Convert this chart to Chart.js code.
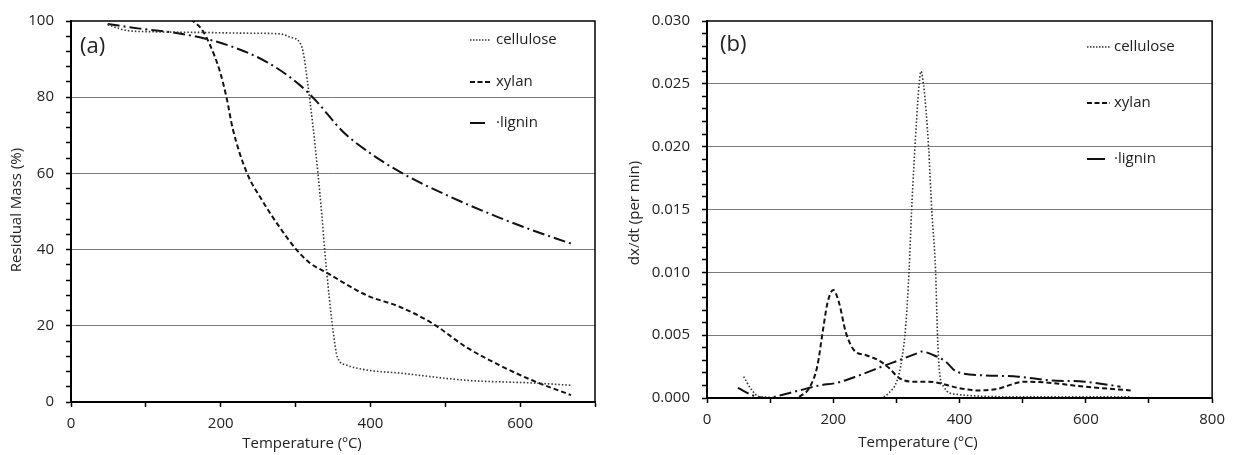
<!DOCTYPE html>
<html>
<head>
<meta charset="utf-8">
<script src="https://cdn.jsdelivr.net/npm/chart.js@4"></script>
<style>
body { margin: 0; background: #fff; }
#wrap { position: relative; width: 1233px; height: 455px; }
.box { position: absolute; top: 0; height: 455px; }
</style>
</head>
<body>
<div id="wrap">
  <div class="box" style="left:0;width:612px"><canvas id="tga"></canvas></div>
  <div class="box" style="left:612px;width:621px"><canvas id="dtg"></canvas></div>
</div>
<script>
// --- (a) residual mass vs temperature ---
const tgaCellT = [49, 75, 105, 172, 239, 280, 292, 305, 310, 316, 323, 330, 335, 339, 345, 350, 356, 368, 395, 439, 528, 616, 668];
const tgaCellM = [99, 97.5, 97.2, 97, 96.8, 96.6, 95.8, 94.5, 92, 84, 72.8, 59.8, 49.3, 39.7, 27.4, 18.8, 11.7, 9.7, 8.4, 7.6, 5.7, 5.0, 4.4];
const tgaXylT = [160, 163, 174, 185, 199, 208, 216, 234, 256, 280, 301, 319, 341, 395, 439, 483, 528, 572, 616, 668];
const tgaXylM = [100.5, 100, 98, 94, 86.7, 79.7, 71.8, 60.6, 52.7, 45.5, 40, 36.5, 34, 28, 25, 20.6, 14.4, 9.7, 5.7, 1.8];
const tgaLigT = [49, 92, 136, 181, 216, 261, 305, 328, 363, 399, 443, 505, 572, 612, 669];
const tgaLigM = [99.2, 98, 97, 95.3, 93.2, 89.3, 83.3, 78.9, 71, 65.4, 60, 54, 48.4, 45.4, 41.5];

// --- (b) rate vs temperature ---
const dtgCellT = [58, 70, 83, 150, 272, 288, 301, 309, 315, 320, 324, 328, 332, 336, 339, 343, 347, 351, 356, 362, 365, 368, 375, 394, 493, 671];
const dtgCellR = [0.0017, 0.0007, 0.0001, 0.0000, 0.0000, 0.0004, 0.0014, 0.0032, 0.0059, 0.0101, 0.0149, 0.0188, 0.0222, 0.0250, 0.0260, 0.0249, 0.0228, 0.0199, 0.0149, 0.0101, 0.0051, 0.0022, 0.0009, 0.0003, 0.0001, 0.0001];
const dtgXylT = [146, 162, 175, 183, 191, 200, 209, 220, 233, 252, 272, 288, 304, 324, 351, 367, 398, 430, 457, 504, 545, 598, 671];
const dtgXylR = [0.0001, 0.0008, 0.0026, 0.0052, 0.0076, 0.0086, 0.0076, 0.0052, 0.0038, 0.0034, 0.0030, 0.0024, 0.0016, 0.0013, 0.0013, 0.0012, 0.0008, 0.0006, 0.0007, 0.0013, 0.0012, 0.0009, 0.0006];
const dtgLigT = [49, 73, 94, 115, 146, 178, 205, 241, 277, 309, 335, 340, 359, 378, 395, 441, 493, 545, 598, 655];
const dtgLigR = [0.0008, 0.0002, 0.0000, 0.0002, 0.0006, 0.0010, 0.0012, 0.0018, 0.0025, 0.0031, 0.0036, 0.0037, 0.0034, 0.0029, 0.0021, 0.0018, 0.0017, 0.0014, 0.0013, 0.0009];

const seriesNames = ['cellulose', 'xylan', '\u00b7lignin'];

Chart.defaults.font.family = "'Open Sans', sans-serif";
Chart.defaults.font.size = 15;
Chart.defaults.color = '#222';

const dotted = { borderColor: '#333', borderWidth: 1.6, borderDash: [1.5, 2] };
const dashed = { borderColor: '#111', borderWidth: 2, borderDash: [5, 3] };
const dashDot = { borderColor: '#111', borderWidth: 2, borderDash: [12, 4, 2, 4] };

function pts(xs, ys) {
  return xs.map((x, i) => ({ x: x, y: ys[i] }));
}
function line(label, xs, ys, style) {
  return Object.assign({ label: label, data: pts(xs, ys), pointRadius: 0, fill: false, cubicInterpolationMode: 'monotone' }, style);
}

// box, panel tag, axis titles, legend
const decor = {
  id: 'decor',
  afterDraw(chart, args, o) {
    const c = chart.ctx, a = chart.chartArea;
    c.save();
    c.strokeStyle = '#000';
    c.lineWidth = 1.5;
    c.setLineDash([]);
    c.strokeRect(a.left, a.top, a.right - a.left, a.bottom - a.top);

    c.fillStyle = '#222';
    c.font = "22px 'Open Sans', sans-serif";
    c.textBaseline = 'middle';
    c.textAlign = 'left';
    c.fillText(o.tag, o.tagX, o.tagY);

    c.font = "15px 'Open Sans', sans-serif";
    c.textAlign = 'center';
    c.fillText('Temperature (\u00baC)', o.xtX, o.xtY);
    c.save();
    c.translate(o.ytX, o.ytY);
    c.rotate(-Math.PI / 2);
    c.fillText(o.yTitle, 0, 0);
    c.restore();

    // legend
    const dashes = [[1.5, 1.5], [5, 2.5], []];
    c.textAlign = 'left';
    seriesNames.forEach((n, i) => {
      const y = o.legY[i];
      c.beginPath();
      c.setLineDash(dashes[i]);
      c.lineWidth = i === 0 ? 1.5 : 2;
      c.strokeStyle = i === 0 ? '#333' : '#111';
      c.moveTo(o.legX0, y);
      c.lineTo(i === 2 ? o.legX1 - 5 : o.legX1, y);
      c.stroke();
      c.setLineDash([]);
      c.fillText(n, o.legTx, y);
    });
    c.restore();
  }
};

function xScale(max) {
  return {
    type: 'linear', min: 0, max: max,
    border: { color: '#000', width: 2 },
    grid: { drawOnChartArea: false, tickLength: 5, tickColor: '#000', tickWidth: 1.5 },
    ticks: { stepSize: 100, autoSkip: false, maxRotation: 0, padding: 8,
      callback: v => (Math.round(v) % 200 === 0 ? String(Math.round(v)) : '') },
    afterFit: s => { s.height = 53; }
  };
}

new Chart(document.getElementById('tga'), {
  type: 'line',
  data: { datasets: [
    line('cellulose', tgaCellT, tgaCellM, dotted),
    line('xylan', tgaXylT, tgaXylM, dashed),
    line('lignin', tgaLigT, tgaLigM, dashDot)
  ] },
  options: {
    responsive: true, maintainAspectRatio: false, animation: false,
    layout: { padding: { left: 0, right: 17, top: 19, bottom: 0 } },
    plugins: { legend: { display: false }, tooltip: { enabled: false },
      decor: { tag: '(a)', tagX: 80, tagY: 47, xtX: 302, xtY: 444, ytX: 17, ytY: 210, yTitle: 'Residual Mass (%)',
        legX0: 470, legX1: 490, legTx: 496, legY: [40, 82, 123] } },
    scales: {
      x: xScale(700),
      y: {
        min: 0, max: 100,
        border: { color: '#000', width: 2 },
        grid: { color: ctx => (ctx.tick && ctx.tick.value % 20 === 0 && ctx.tick.value > 0 && ctx.tick.value < 100 ? '#7a7a7a' : 'rgba(0,0,0,0)'),
          tickColor: '#000', tickLength: 5, tickWidth: 1.5 },
        ticks: { stepSize: 4, autoSkip: false, padding: 12,
          callback: v => (Math.round(v) % 20 === 0 ? String(Math.round(v)) : '') },
        afterFit: s => { s.width = 71; }
      }
    }
  },
  plugins: [decor]
});

new Chart(document.getElementById('dtg'), {
  type: 'line',
  data: { datasets: [
    line('cellulose', dtgCellT, dtgCellR, dotted),
    line('xylan', dtgXylT, dtgXylR, dashed),
    line('lignin', dtgLigT, dtgLigR, dashDot)
  ] },
  options: {
    responsive: true, maintainAspectRatio: false, animation: false,
    layout: { padding: { left: 0, right: 17, top: 19, bottom: 0 } },
    plugins: { legend: { display: false }, tooltip: { enabled: false },
      decor: { tag: '(b)', tagX: 108, tagY: 45, xtX: 306, xtY: 443, ytX: 23, ytY: 213, yTitle: 'dx/dt (per min)',
        legX0: 475, legX1: 498, legTx: 502, legY: [47, 103, 159] } },
    scales: {
      x: Object.assign(xScale(800), { afterFit: s => { s.height = 57; } }),
      y: {
        min: 0, max: 0.03,
        border: { color: '#000', width: 2 },
        grid: { color: ctx => {
            if (!ctx.tick) return 'rgba(0,0,0,0)';
            const k = Math.round(ctx.tick.value * 1000);
            return k % 5 === 0 && k > 0 && k < 30 ? '#7a7a7a' : 'rgba(0,0,0,0)';
          },
          tickColor: '#000', tickLength: 5, tickWidth: 1.5 },
        ticks: { stepSize: 0.001, autoSkip: false, padding: 12,
          callback: v => (Math.round(v * 1000) % 5 === 0 ? v.toFixed(3) : '') },
        afterFit: s => { s.width = 95; }
      }
    }
  },
  plugins: [decor]
});
</script>
</body>
</html>
